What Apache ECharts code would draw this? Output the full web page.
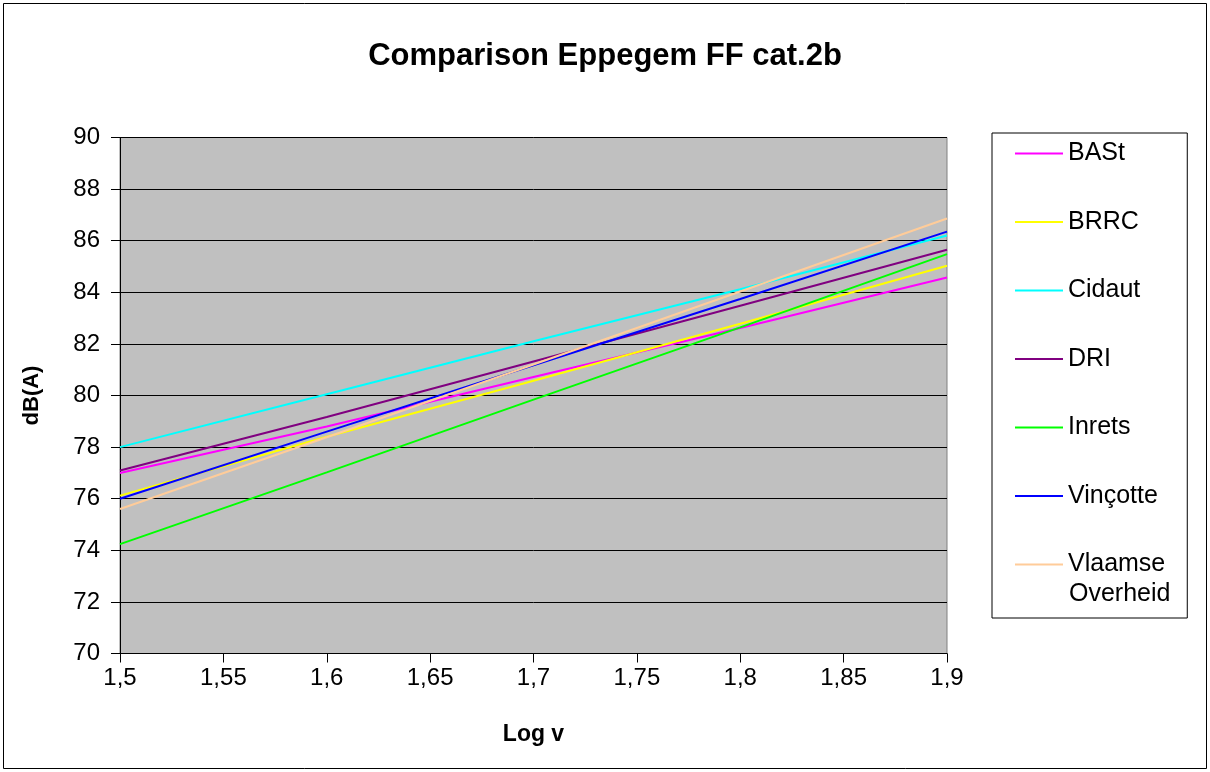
<!DOCTYPE html>
<html>
<head>
<meta charset="utf-8">
<script src="https://cdn.jsdelivr.net/npm/echarts@6/dist/echarts.min.js"></script>
<style>
html,body{margin:0;padding:0;background:#fff;}
#c{width:1210px;height:772px;}
</style>
</head>
<body>
<div id="c"></div>
<script>
const xValues = [1.5, 1.6, 1.7, 1.8, 1.9];
const yTicks = [70, 72, 74, 76, 78, 80, 82, 84, 86, 88, 90];
const seriesNames = ['BASt', 'BRRC', 'Cidaut', 'DRI', 'Inrets', 'Vinçotte', 'Vlaamse Overheid'];
const bast     = [77.0, 78.8, 80.72, 82.62, 84.57];
const brrc     = [76.12, 78.4, 80.57, 82.78, 85.03];
const cidaut   = [78.0, 80.05, 82.1, 84.12, 86.2];
const dri      = [77.09, 79.17, 81.32, 83.48, 85.65];
const inrets   = [74.24, 77.02, 79.84, 82.64, 85.48];
const vincotte = [76.0, 78.6, 81.17, 83.74, 86.35];
const vlaamse  = [75.6, 78.38, 81.2, 84.03, 86.86];
const seriesValues = [bast, brrc, cidaut, dri, inrets, vincotte, vlaamse];
const colors = ['#FF00FF', '#FFFF00', '#00FFFF', '#800080', '#00FF00', '#0000FF', '#FFCC99'];

const FONT = 'Liberation Sans, Arial, sans-serif';
const chart = echarts.init(document.getElementById('c'), null, {renderer: 'canvas'});

const series = seriesNames.map((n, i) => ({
  name: n,
  type: 'line',
  data: xValues.map((x, j) => [x, seriesValues[i][j]]),
  showSymbol: false,
  symbol: 'none',
  lineStyle: {color: colors[i], width: 2},
  itemStyle: {color: colors[i]},
  animation: false,
  z: 10 + i
}));

chart.setOption({
  animation: false,
  backgroundColor: '#ffffff',
  title: {
    text: 'Comparison Eppegem FF cat.2b',
    left: 'center',
    top: 41,
    padding: 0,
    textStyle: {fontFamily: FONT, fontSize: 31, fontWeight: 'bold', color: '#000'}
  },
  grid: {
    left: 120, right: 263, top: 137.5, bottom: 118.5,
    show: true, backgroundColor: '#C0C0C0', borderColor: '#808080', borderWidth: 1,
    containLabel: false
  },
  legend: {
    orient: 'vertical',
    left: 992, top: 133,
    padding: [6, 22, 39, 23],
    itemGap: 39.5,
    itemWidth: 48,
    itemHeight: 2,
    icon: 'rect',
    borderColor: '#000', borderWidth: 1,
    backgroundColor: '#fff',
    selectedMode: false,
    formatter: function (name) { return name === 'Vlaamse Overheid' ? 'Vlaamse' : name; },
    textStyle: {fontFamily: FONT, fontSize: 25, lineHeight: 29, color: '#000'},
    data: seriesNames
  },
  graphic: [
    {type: 'rect', shape: {x: 3.5, y: 3.5, width: 1203, height: 765}, style: {fill: 'none', stroke: '#000', lineWidth: 1}, silent: true, z: -1},
    {type: 'text', left: 1069, top: 594 - 14.5, style: {text: 'Overheid', font: '25px ' + FONT, fill: '#000', lineHeight: 29}, z: 100}
  ],
  xAxis: {
    type: 'value', min: 1.5, max: 1.9, interval: 0.05,
    name: 'Log v', nameLocation: 'middle', nameGap: 70,
    nameTextStyle: {fontFamily: FONT, fontSize: 23, fontWeight: 'bold', color: '#000'},
    axisLine: {show: true, onZero: false, lineStyle: {color: '#000', width: 1}},
    axisTick: {show: true, inside: false, length: 9, lineStyle: {color: '#000'}},
    axisLabel: {
      fontFamily: FONT, fontSize: 24, color: '#000', margin: 13,
      formatter: v => String(Number(v.toFixed(2))).replace('.', ',')
    },
    splitLine: {show: false}
  },
  yAxis: {
    type: 'value', min: yTicks[0], max: yTicks[yTicks.length - 1], interval: 2,
    name: 'dB(A)', nameLocation: 'middle', nameGap: 77, nameRotate: 90,
    nameTextStyle: {fontFamily: FONT, fontSize: 22, fontWeight: 'bold', color: '#000'},
    axisLine: {show: true, lineStyle: {color: '#000', width: 1}},
    axisTick: {show: true, inside: false, length: 9, lineStyle: {color: '#000'}},
    axisLabel: {fontFamily: FONT, fontSize: 24, color: '#000', margin: 20},
    splitLine: {show: true, lineStyle: {color: '#000', width: 1}}
  },
  series: series
});
</script>
</body>
</html>
